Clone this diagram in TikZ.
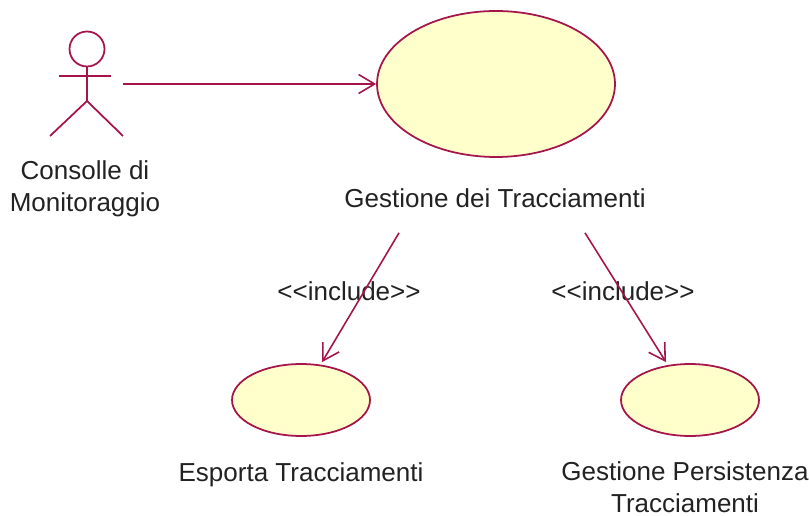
\documentclass[tikz,border=0pt]{standalone}
\usepackage{fontspec}
\setmainfont{Liberation Sans}
\usetikzlibrary{shapes.geometric,arrows.meta}
\definecolor{umlline}{HTML}{A5144A}
\definecolor{umlfill}{HTML}{FFFFCC}
\definecolor{umltext}{HTML}{222222}
\tikzset{
    usecase/.style={ellipse, draw=umlline, fill=umlfill, line width=1pt, inner sep=0pt},
    actorline/.style={draw=umlline, line width=1pt},
    relation/.style={draw=umlline, line width=0.9pt, -{Straight Barb[length=3.2mm, width=3.8mm]}},
    caption/.style={text=umltext, font=\fontsize{14.8}{18.2}\selectfont, align=center, inner sep=0pt},
}

\begin{document}
\begin{tikzpicture}[x=0.02cm, y=-0.02cm]
    \useasboundingbox (0, 0) rectangle (810, 516);

    \node [usecase, minimum width=4.76cm, minimum height=2.92cm] (main) at (496, 84) {};
    \node [usecase, minimum width=2.76cm, minimum height=1.44cm] (esporta) at (301, 400) {};
    \node [usecase, minimum width=2.76cm, minimum height=1.44cm] (persistenza) at (690, 400) {};

    % actor
    \node [circle, draw=umlline, line width=1pt, minimum size=0.7cm, inner sep=0pt] (actor_head) at (87, 49) {};
    \coordinate (actor_hip) at (87, 101);
    \draw [actorline] (actor_head.south) -- (actor_hip);
    \draw [actorline] ([shift={(-28, 27)}]actor_head.center) -- ([shift={(24, 27)}]actor_head.center);
    \draw [actorline] (actor_hip) -- ([shift={(-37, 35)}]actor_hip);
    \draw [actorline] (actor_hip) -- ([shift={(36, 35)}]actor_hip);

    \node [caption] (actor_lab) at (85, 189) {Consolle di\\Monitoraggio};
    \node [caption] (main_lab) at ([shift={(-1, 40)}]main.south) {Gestione dei Tracciamenti};
    \node [caption] (esporta_lab) at ([shift={(0, 38)}]esporta.south) {Esporta Tracciamenti};
    \node [caption] (persistenza_lab) at ([shift={(-5, 50)}]persistenza.south) {Gestione Persistenza\\Tracciamenti};

    \node [caption] (include_esporta) at (349, 291) {<{}<include>{}>};
    \node [caption] (include_persistenza) at (623, 291) {<{}<include>{}>};

    \draw [relation] ([shift={(36, 35)}]actor_head.center) -- (main.west);
    \draw [relation] ([shift={(-96, 35)}]main_lab.center) -- ([shift={(21, -1)}]esporta.north);
    \draw [relation] ([shift={(90, 35)}]main_lab.center) -- ([shift={(-24, -1)}]persistenza.north);

\end{tikzpicture}
\end{document}
